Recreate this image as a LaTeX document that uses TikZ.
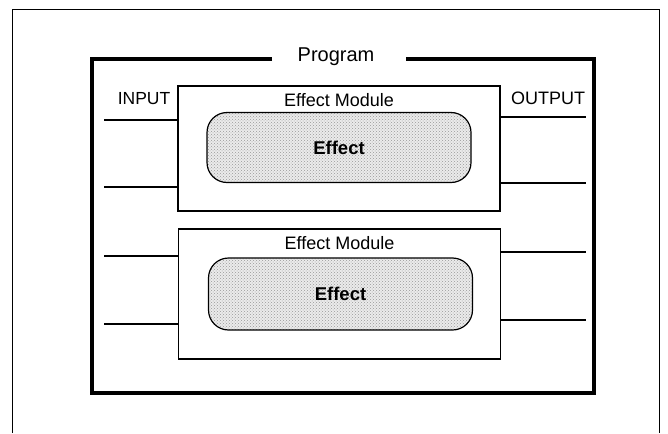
\documentclass[tikz,border=0pt]{standalone}
\usepackage{fontspec}
\setmainfont{Liberation Sans}
\usetikzlibrary{patterns}
\begin{document}
\begin{tikzpicture}[x=1pt,y=-1pt,
	module/.style={draw, line width=1.4pt, minimum width=322pt, minimum height=125pt, inner sep=0pt},
	effect/.style={draw, line width=1.2pt, rounded corners=20pt, minimum width=264pt, minimum height=70pt, inner sep=0pt,
		preaction={fill=gray!16}, pattern=crosshatch dots, pattern color=gray!80},
	wire/.style={line width=1.8pt},
	title/.style={anchor=base, font=\fontsize{18}{20}\selectfont}]

	\useasboundingbox (0,0) rectangle (668,433);

	%outer frame (open at the bottom)
	\draw[line width=0.8pt] (12,433) -- (12,9) -- (659,9) -- (659,433);

	%program box with its name in the top edge
	\node[anchor=base, font=\fontsize{20}{22}\selectfont] (prog) at (336,62) {Program};
	\draw[line width=3.5pt] (272,59) -- (92,59) -- (92,393) -- (594,393) -- (594,59) -- (406,59);

	%first module
	\node[module] (mod1) at (339,148.5) {};
	\node[title] (mod1title) at ([yshift=-21pt]mod1.north) {Effect Module};
	\node[effect] (eff1) at (339,147.5) {};
	\node[font=\fontsize{18.5}{20}\selectfont\bfseries] (eff1text) at (eff1) {Effect};

	%second module
	\node[module, minimum height=130pt] (mod2) at (339.5,294) {};
	\node[title] (mod2title) at ([yshift=-21pt]mod2.north) {Effect Module};
	\node[effect, minimum height=72pt] (eff2) at (340.5,294) {};
	\node[font=\fontsize{18.5}{20}\selectfont\bfseries] (eff2text) at (eff2) {Effect};

	%inputs
	\node[anchor=base, font=\fontsize{17.5}{19}\selectfont] (input) at (144,105) {INPUT};
	\coordinate (in1) at (104,120);
	\coordinate (in2) at (104,187);
	\coordinate (in3) at (104,256);
	\coordinate (in4) at (104,324);
	\draw[wire] (in1) -- (in1 -| mod1.west);
	\draw[wire] (in2) -- (in2 -| mod1.west);
	\draw[wire] (in3) -- (in3 -| mod2.west);
	\draw[wire] (in4) -- (in4 -| mod2.west);

	%outputs
	\node[anchor=base, font=\fontsize{18}{20}\selectfont] (output) at (548,105) {OUTPUT};
	\coordinate (out1) at (586,117);
	\coordinate (out2) at (586,183);
	\coordinate (out3) at (586,252);
	\coordinate (out4) at (586,320);
	\draw[wire] (out1 -| mod1.east) -- (out1);
	\draw[wire] (out2 -| mod1.east) -- (out2);
	\draw[wire] (out3 -| mod2.east) -- (out3);
	\draw[wire] (out4 -| mod2.east) -- (out4);
\end{tikzpicture}
\end{document}
